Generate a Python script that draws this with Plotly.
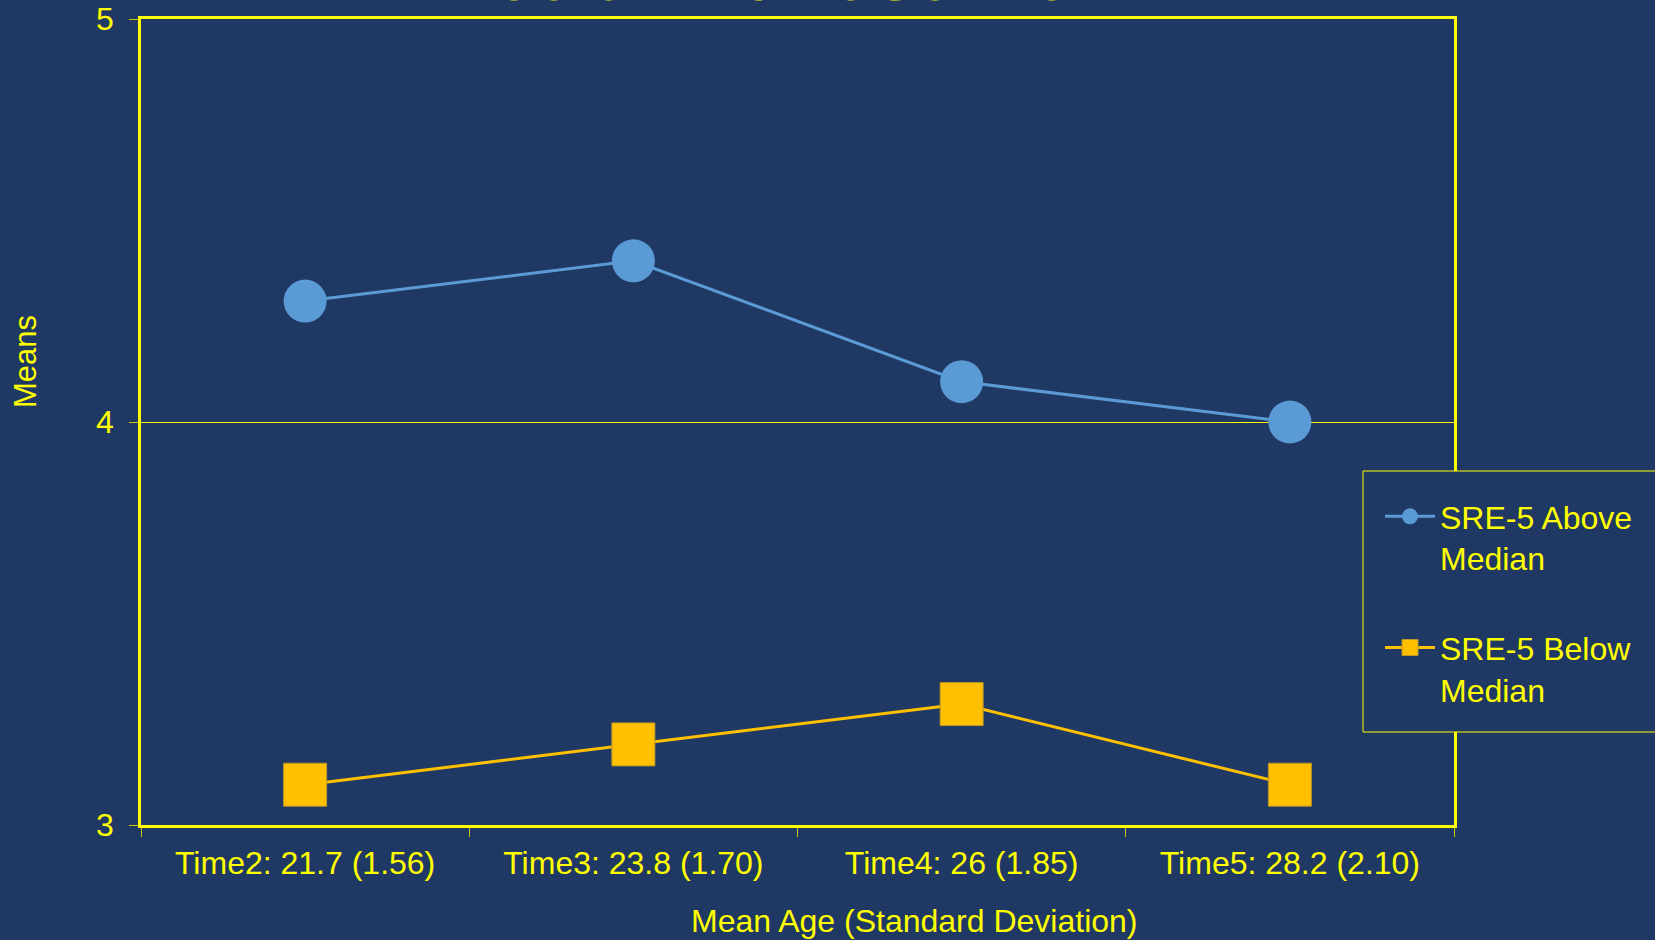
import plotly.graph_objects as go

# Category labels: measurement wave with mean age (SD)
time_labels = ["Time2: 21.7 (1.56)", "Time3: 23.8 (1.70)", "Time4: 26 (1.85)", "Time5: 28.2 (2.10)"]

# Mean scores per group
above_median = [4.3, 4.4, 4.1, 4.0]
below_median = [3.1, 3.2, 3.3, 3.1]

BG = "#203864"
YELLOW = "#FFFF00"
BLUE = "#5B9BD5"
GOLD = "#FFC000"
FONT = "Liberation Sans, Arial, sans-serif"

W, H = 1655, 940
L, R, T, B = 141, 201, 19, 115
plot_w = W - L - R
plot_h = H - T - B

fig = go.Figure()

fig.add_trace(go.Scatter(
    x=time_labels, y=above_median, mode="lines+markers",
    name="SRE-5 Above<br>Median", legendgroup="a",
    line=dict(color=BLUE, width=3),
    marker=dict(symbol="circle", size=43, color=BLUE),
))
fig.add_trace(go.Scatter(
    x=time_labels, y=below_median, mode="lines+markers",
    name="SRE-5 Below<br>Median", legendgroup="b",
    line=dict(color=GOLD, width=3),
    marker=dict(symbol="square", size=43, color=GOLD,
                line=dict(color="#B8962A", width=1)),
))


def px_x(px):
    return (px - L) / plot_w


def px_y(py):
    return (H - B - py) / plot_h


fig.update_layout(
    width=W, height=H,
    paper_bgcolor=BG, plot_bgcolor=BG,
    margin=dict(l=L, r=R, t=T, b=B, autoexpand=False),
    font=dict(family=FONT, color=YELLOW, size=32),
    showlegend=True,
    legend=dict(
        x=px_x(1380), y=px_y(489), xanchor="left", yanchor="top",
        bgcolor="rgba(0,0,0,0)", borderwidth=0,
        font=dict(family=FONT, color=YELLOW, size=32),
        tracegroupgap=45, itemwidth=50, valign="top",
    ),
    xaxis=dict(
        type="category", range=[-0.5, 3.5],
        showline=True, linecolor=YELLOW, linewidth=2.5, mirror=True,
        ticks="outside", tickson="boundaries", ticklen=9, tickcolor="#C8C800", tickwidth=1,
        tickfont=dict(family=FONT, color=YELLOW, size=32),
        ticklabelstandoff=8,
        showgrid=False, zeroline=False,
    ),
    yaxis=dict(
        range=[3, 5], dtick=1, tick0=3,
        showline=True, linecolor=YELLOW, linewidth=2.5, mirror=True,
        ticks="outside", ticklen=9, tickcolor="#C8C800", tickwidth=1,
        tickfont=dict(family=FONT, color=YELLOW, size=32),
        ticklabelstandoff=9,
        showgrid=True, gridcolor=YELLOW, gridwidth=1,
        zeroline=False,
    ),
    shapes=[
        # legend panel
        dict(type="rect", xref="paper", yref="paper", layer="above",
             x0=px_x(1363), x1=px_x(1680), y0=px_y(732), y1=px_y(471),
             fillcolor=BG, line=dict(color=YELLOW, width=1)),
    ],
    annotations=[
        dict(text="Mean Age (Standard Deviation)", xref="paper", yref="paper",
             x=px_x(914), y=px_y(921), xanchor="center", yanchor="middle",
             showarrow=False, font=dict(family=FONT, color=YELLOW, size=32)),
        dict(text="Means", xref="paper", yref="paper",
             x=px_x(26), y=px_y(362), xanchor="center", yanchor="middle",
             textangle=-90, showarrow=False,
             font=dict(family=FONT, color=YELLOW, size=31)),
        dict(text="Median At Baseline", xref="paper", yref="paper",
             x=px_x(752), y=px_y(18.5), xanchor="center", yanchor="bottom",
             showarrow=False, font=dict(family=FONT, color=YELLOW, size=75)),
    ],
)

fig.write_html("out.html")
